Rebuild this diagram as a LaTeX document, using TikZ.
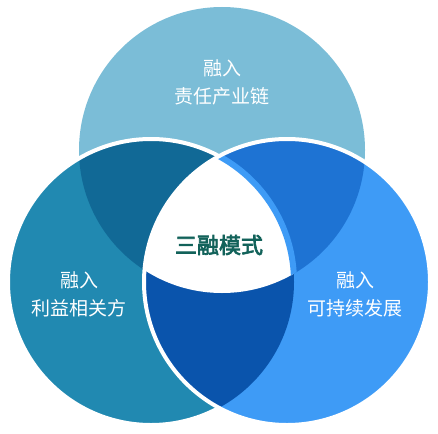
\documentclass[tikz,border=0pt]{standalone}
\usepackage{fontspec}
\newfontfamily\cjk{Noto Sans CJK SC}
\newfontfamily\cjkmed{Noto Sans CJK SC}[FakeBold=3]
\definecolor{ctop}{HTML}{7BBDD7}
\definecolor{cleft}{HTML}{2189B1}
\definecolor{cright}{HTML}{3E9BF6}
\definecolor{ctl}{HTML}{116996}
\definecolor{ctr}{HTML}{1E73D3}
\definecolor{clr}{HTML}{0A54AC}
\definecolor{ctext}{HTML}{12625A}
\tikzset{
  lbl/.style={text=white,font=\cjk\fontsize{19}{28}\selectfont,align=center},
  core/.style={text=ctext,font=\cjkmed\fontsize{22}{26}\selectfont},
  ring/.style={draw=white,line width=4pt}
}
\begin{document}
\begin{tikzpicture}[x=1pt,y=-1pt]
\useasboundingbox (0,0) rectangle (438,433);
\def\R{143}
\coordinate (T) at (222,150);
\coordinate (L) at (151,282);
\coordinate (Rc) at (287,282);
% top circle
\fill[ctop] (T) circle (\R);
% left circle
\fill[cleft] (L) circle (\R);
\begin{scope}
  \clip (L) circle (\R);
  \fill[ctl] (T) circle (\R);
\end{scope}
\draw[ring] (L) circle (\R);
% right circle
\fill[cright] (Rc) circle (\R);
\begin{scope}
  \clip (Rc) circle (\R);
  \fill[ctr] (T) circle (\R);
  \fill[clr] (L) circle (\R);
  \begin{scope}
    \clip (L) circle (\R);
    \fill[white] (T) circle (\R);
  \end{scope}
  \begin{scope}
    \clip (T) circle (\R);
    \draw[cright,line width=6pt] (L) circle (\R);
  \end{scope}
\end{scope}
\draw[ring] (Rc) circle (\R);
% texts
\node[lbl] (ttop) at (222,82) {融入\\责任产业链};
\node[lbl] (tleft) at (79,294) {融入\\利益相关方};
\node[lbl] (tright) at (355,294) {融入\\可持续发展};
\node[core] (tcore) at (219,245) {三融模式};
\end{tikzpicture}
\end{document}
